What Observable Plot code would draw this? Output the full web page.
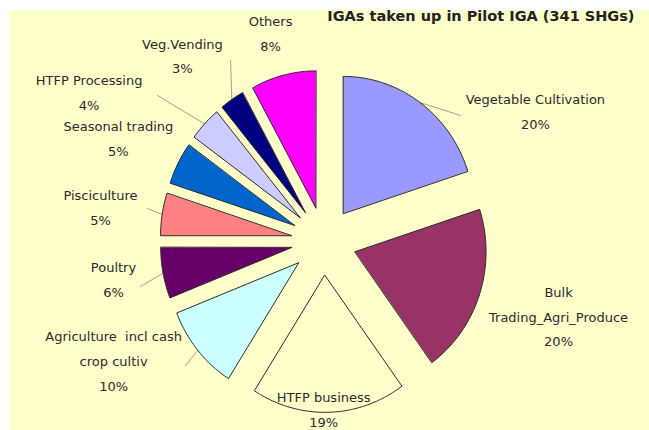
<!DOCTYPE html>
<html>
<head>
<meta charset="utf-8">
<script src="https://cdn.jsdelivr.net/npm/d3@7"></script>
<script src="https://cdn.jsdelivr.net/npm/@observablehq/plot@0.6"></script>
<style>
html, body { margin: 0; padding: 0; background: #ffffff; }
#wrap { position: absolute; left: 9px; top: 10px; width: 640px; height: 420px; background: #FFFFCC; }
#wrap svg { display: block; }
</style>
</head>
<body>
<div id="wrap"></div>
<script>
// ---- data ----
const title = "IGAs taken up in Pilot IGA (341 SHGs)";
const categories = [
  "Vegetable Cultivation",
  "Bulk Trading_Agri_Produce",
  "HTFP business",
  "Agriculture  incl cash crop cultiv",
  "Poultry",
  "Pisciculture",
  "Seasonal trading",
  "HTFP Processing",
  "Veg.Vending",
  "Others"
];
const labelTexts = [
  "Vegetable Cultivation",
  "Bulk\nTrading_Agri_Produce",
  "HTFP business",
  "Agriculture  incl cash\ncrop cultiv",
  "Poultry",
  "Pisciculture",
  "Seasonal trading",
  "HTFP Processing",
  "Veg.Vending",
  "Others"
];
const shares = [20, 20, 19, 10, 6, 5, 5, 4, 3, 8];
const percentLabels = ["20%", "20%", "19%", "10%", "6%", "5%", "5%", "4%", "3%", "8%"];

// ---- styles / layout ----
const sliceColors = ["#9999FF", "#993366", "#FFFFCC", "#CCFFFF", "#660066", "#FF8080", "#0066CC", "#CCCCFF", "#000080", "#FF00FF"];
const explode = 0.25;
const labelAngle = [59.9, 107.3, 180.1, 241.2, 259.8, 277.9, 295.3, 301.0, 321.2, 344.9];
const labelRadius = [1.866, 1.876, 1.235, 1.832, 1.632, 1.722, 1.735, 2.091, 1.724, 1.562];
const leaderEnd = [[48.7, 1.389], null, null, [229.3, 1.393], [256.7, 1.438], [280, 1.368], null, [309.9, 1.656], [331.6, 1.498], null];

const rad = Math.PI / 180;
const arcs = d3.pie().sort(null).value(d => d)(shares);

const slicePoints = [];
const leaderPoints = [];
const labels = [];
arcs.forEach((a, i) => {
  const mid = (a.startAngle + a.endAngle) / 2;
  const ax = explode * Math.sin(mid), ay = explode * Math.cos(mid);
  const name = categories[i];
  slicePoints.push({name, u: ax, v: ay});
  const n = Math.max(4, Math.ceil((a.endAngle - a.startAngle) / rad));
  for (let k = 0; k <= n; k++) {
    const t = a.startAngle + (a.endAngle - a.startAngle) * k / n;
    slicePoints.push({name, u: ax + Math.sin(t), v: ay + Math.cos(t)});
  }
  if (leaderEnd[i]) {
    const [la, lr] = leaderEnd[i];
    leaderPoints.push({name, u: ax + Math.sin(mid), v: ay + Math.cos(mid)});
    leaderPoints.push({name, u: lr * Math.sin(la * rad), v: lr * Math.cos(la * rad)});
  }
  labels.push({
    u: labelRadius[i] * Math.sin(labelAngle[i] * rad),
    v: labelRadius[i] * Math.cos(labelAngle[i] * rad),
    text: labelTexts[i] + "\n" + percentLabels[i]
  });
});

const Cx = 314.4, Cy = 230.6, kx = 131, ky = 137;

const chart = Plot.plot({
  width: 640,
  height: 420,
  margin: 0,
  x: {domain: [-1, 1], range: [Cx - kx, Cx + kx], axis: null},
  y: {domain: [-1, 1], range: [Cy + ky, Cy - ky], axis: null},
  color: {type: "ordinal", domain: categories, range: sliceColors},
  style: {background: "transparent", fontFamily: "'DejaVu Sans', sans-serif", overflow: "visible"},
  marks: [
    Plot.line(leaderPoints, {x: "u", y: "v", z: "name", stroke: "#8a8a7a", strokeWidth: 0.8}),
    Plot.line(slicePoints, {x: "u", y: "v", z: "name", fill: "name", stroke: "#2a2a2a", strokeWidth: 1, curve: "linear-closed"}),
    Plot.text(labels, {x: "u", y: "v", text: "text", fontSize: 13, lineHeight: 1.92, dy: -4, fill: "#2a2a2a"}),
    Plot.text([title], {frameAnchor: "top-right", dx: -15, dy: 0, fontSize: 14.5, fontWeight: "bold", fill: "#222"})
  ]
});
document.getElementById("wrap").appendChild(chart);
</script>
</body>
</html>
